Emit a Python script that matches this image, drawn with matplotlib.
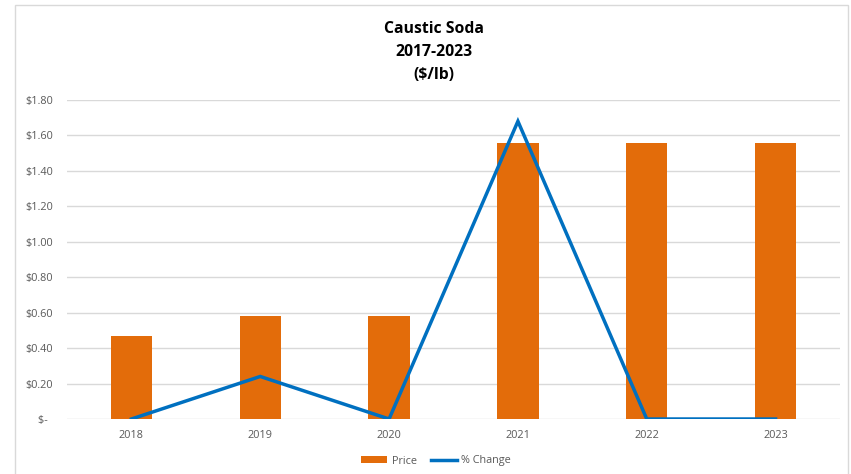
import matplotlib
matplotlib.use("Agg")
import matplotlib.pyplot as plt
from matplotlib.lines import Line2D
from matplotlib.patches import Patch
from matplotlib.ticker import FuncFormatter

years = ["2018", "2019", "2020", "2021", "2022", "2023"]
price = [0.47, 0.58, 0.58, 1.56, 1.56, 1.56]
pct_change = [0.00, 0.24, 0.00, 1.68, 0.00, 0.00]
title_lines = ["Caustic Soda", "2017-2023", "($/lb)"]

bar_color = "#E36C0A"
line_color = "#0070C0"
grid_color = "#D9D9D9"
text_color = "#595959"

plt.rcParams["font.family"] = ["Open Sans", "DejaVu Sans"]

fig = plt.figure(figsize=(8.51, 4.74), dpi=100)
# chart frame
frame = plt.Rectangle((15 / 851, -0.01), (848 - 15) / 851, 1 - 5 / 474 + 0.01,
                      transform=fig.transFigure, fill=False,
                      edgecolor="#D9D9D9", linewidth=1)
fig.patches.append(frame)

ax = fig.add_axes([67 / 851, 1 - 419 / 474, (840 - 67) / 851, (419 - 100) / 474])
x = range(len(years))
ax.bar(x, price, width=0.32, color=bar_color, zorder=2)
ax.plot(x, pct_change, color=line_color, linewidth=2.5, zorder=3,
        solid_joinstyle="miter")

ax.set_xlim(-0.5, len(years) - 0.5)
ax.set_ylim(0, 1.8)
ax.set_yticks([i * 0.2 for i in range(10)])

def money(v, _):
    return "$-  " if abs(v) < 1e-9 else f"${v:.2f}"

ax.yaxis.set_major_formatter(FuncFormatter(money))
ax.set_xticks(list(x))
ax.set_xticklabels(years)
ax.tick_params(axis="both", length=0, labelsize=7.8, colors=text_color)
ax.tick_params(axis="y", pad=10)
ax.tick_params(axis="x", pad=8)
for s in ax.spines.values():
    s.set_visible(False)
ax.grid(axis="y", color=grid_color, linewidth=1, zorder=0)
ax.set_axisbelow(True)

fig.text(434 / 851, 1 - 21 / 474, "\n".join(title_lines), ha="center", va="top",
         fontsize=11.3, fontweight="bold", color="#000000", linespacing=1.6)

handles = [Patch(facecolor=bar_color, label="Price"),
           Line2D([0], [0], color=line_color, linewidth=2.5, label="% Change")]
fig.legend(handles=handles, loc="center", bbox_to_anchor=(436 / 851, 1 - 461 / 474),
           ncol=2, frameon=False, fontsize=7.8, labelcolor=text_color,
           handlelength=2.4, handleheight=0.6, columnspacing=1.3, handletextpad=0.4)

fig.savefig("out.png", dpi=100)
